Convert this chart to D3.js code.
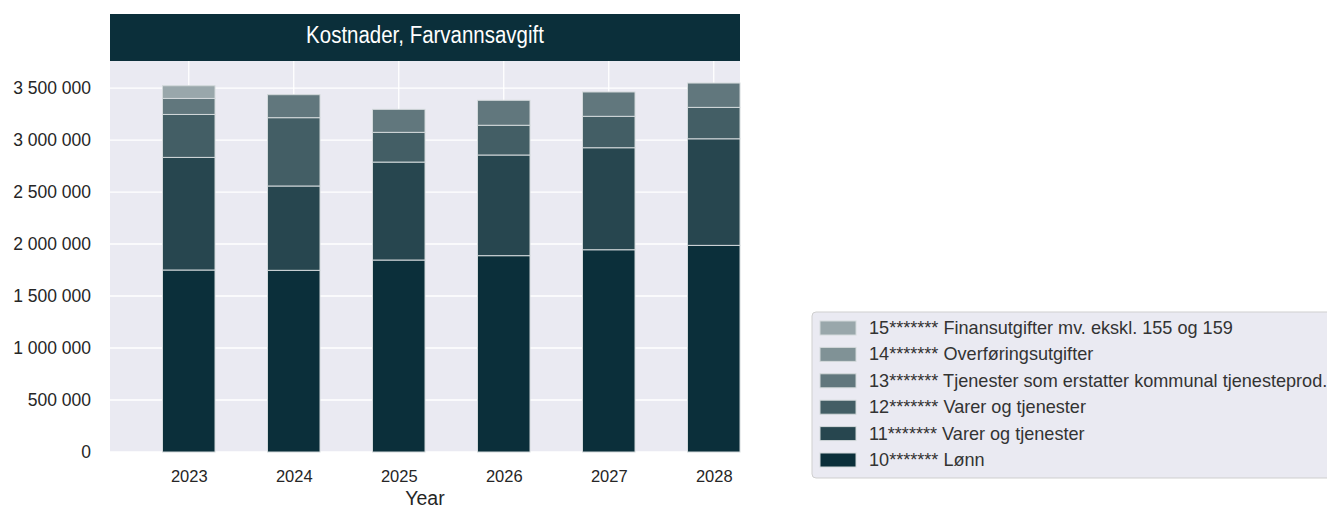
<!DOCTYPE html>
<html>
<head>
<meta charset="utf-8">
<script src="https://cdn.jsdelivr.net/npm/d3@7"></script>
<style>
  body { margin: 0; background: #fff; }
  text { font-family: "Liberation Sans", Arial, sans-serif; fill: #262626; }
</style>
</head>
<body>
<div id="chart"></div>
<script>
const w = 1327;
const h = 509;

// plot area
const pLeft = 110, pRight = 740, pTop = 61, pBottom = 452;

// data
const years = ['2023', '2024', '2025', '2026', '2027', '2028'];
const seriesNames = [
  '10******* Lønn',
  '11******* Varer og tjenester',
  '12******* Varer og tjenester',
  '13******* Tjenester som erstatter kommunal tjenesteprod.',
  '14******* Overføringsutgifter',
  '15******* Finansutgifter mv. ekskl. 155 og 159'
];
const lonn      = [1750000, 1747000, 1846000, 1888000, 1945000, 1987000];
const varer11   = [1083000,  811000,  942000,  968000,  981000, 1025000];
const varer12   = [ 413000,  657000,  286000,  286000,  302000,  302000];
const tjen13    = [ 154000,  221000,  221000,  240000,  234000,  234000];
const overf14   = [      0,       0,       0,       0,       0,       0];
const finans15  = [ 122000,       0,       0,       0,       0,       0];
const yTicks = [0, 500000, 1000000, 1500000, 2000000, 2500000, 3000000, 3500000];
const colors = ['#0b2f3a', '#27464f', '#435e65', '#61777d', '#809296', '#99a7ab'];

const seriesValues = [lonn, varer11, varer12, tjen13, overf14, finans15];

// table for d3.stack
const table = years.map((y, i) => {
  const row = {year: y, idx: i};
  seriesNames.forEach((s, k) => row[s] = seriesValues[k][i]);
  return row;
});
const stacked = d3.stack().keys(seriesNames)(table);

const svg = d3.select('#chart').append('svg')
  .attr('width', w)
  .attr('height', h);

// scales
const xScale = d3.scaleLinear().domain([-0.75, 5.25]).range([pLeft, pRight]);
const yScale = d3.scaleLinear().domain([0, 3760000]).range([pBottom, pTop]);

const fmt = d3.formatLocale({decimal: ',', thousands: ' ', grouping: [3], currency: ['', '']}).format(',d');

// background
svg.append('rect')
  .attr('x', pLeft).attr('y', pTop)
  .attr('width', pRight - pLeft).attr('height', pBottom - pTop)
  .attr('fill', '#eaeaf2');

// grid
svg.append('g')
  .selectAll('line')
  .data(yTicks)
  .enter().append('line')
  .attr('x1', pLeft).attr('x2', pRight)
  .attr('y1', d => yScale(d)).attr('y2', d => yScale(d))
  .attr('stroke', '#fff').attr('stroke-width', 1.3);
svg.append('g')
  .selectAll('line')
  .data(years)
  .enter().append('line')
  .attr('x1', (d, i) => xScale(i)).attr('x2', (d, i) => xScale(i))
  .attr('y1', pTop).attr('y2', pBottom)
  .attr('stroke', '#fff').attr('stroke-width', 1.3);

// axes (labels only, seaborn style)
const yAxis = d3.axisLeft(yScale).tickValues(yTicks).tickFormat(fmt).tickSize(0).tickPadding(19);
svg.append('g')
  .attr('transform', `translate(${pLeft},0)`)
  .call(yAxis)
  .call(g => g.select('.domain').remove())
  .call(g => g.selectAll('text').attr('font-size', '17.5px').attr('font-family', null).attr('fill', '#333'));

const xAxis = d3.axisBottom(xScale).tickValues(d3.range(years.length)).tickFormat(i => years[i]).tickSize(0).tickPadding(18);
svg.append('g')
  .attr('transform', `translate(0,${pBottom})`)
  .call(xAxis)
  .call(g => g.select('.domain').remove())
  .call(g => g.selectAll('text').attr('font-size', '16.5px').attr('font-family', null).attr('fill', '#333'));

// bars
const barW = xScale(0.5) - xScale(0);
svg.append('g')
  .selectAll('g')
  .data(stacked)
  .enter().append('g')
  .attr('fill', (d, k) => colors[k])
  .selectAll('rect')
  .data(d => d.filter(p => p[1] - p[0] > 0))
  .enter().append('rect')
  .attr('x', d => xScale(d.data.idx) - barW / 2)
  .attr('y', d => yScale(d[1]))
  .attr('width', barW)
  .attr('height', d => yScale(d[0]) - yScale(d[1]))
  .attr('stroke', '#d3d9db')
  .attr('stroke-width', 1);

// title bar
svg.append('rect')
  .attr('x', pLeft).attr('y', 14)
  .attr('width', pRight - pLeft).attr('height', pTop - 14)
  .attr('fill', '#0b2f3a');
svg.append('text')
  .attr('transform', `translate(${(pLeft + pRight) / 2},43) scale(0.89,1)`)
  .attr('text-anchor', 'middle')
  .attr('font-size', '23px')
  .style('fill', '#fff')
  .text('Kostnader, Farvannsavgift');

// x label
svg.append('text')
  .attr('x', (pLeft + pRight) / 2)
  .attr('y', 505)
  .attr('text-anchor', 'middle')
  .attr('font-size', '19.5px')
  .text('Year');

// legend
const lg = svg.append('g');
lg.append('rect')
  .attr('x', 812).attr('y', 312)
  .attr('width', 540).attr('height', 166)
  .attr('rx', 4)
  .attr('fill', '#eaeaf2')
  .attr('stroke', '#cfcfcf');
const legendOrder = d3.range(seriesNames.length).reverse();
const items = lg.selectAll('g.item')
  .data(legendOrder)
  .enter().append('g')
  .attr('class', 'item')
  .attr('transform', (k, j) => `translate(0,${328 + j * 26.4})`);
items.append('rect')
  .attr('x', 820).attr('y', -7)
  .attr('width', 36).attr('height', 14)
  .attr('fill', k => colors[k])
  .attr('stroke', '#d3d9db');
items.append('text')
  .attr('x', 869).attr('y', 6)
  .attr('font-size', '18.1px')
  .style('fill', '#333')
  .text(k => seriesNames[k]);
</script>
</body>
</html>
